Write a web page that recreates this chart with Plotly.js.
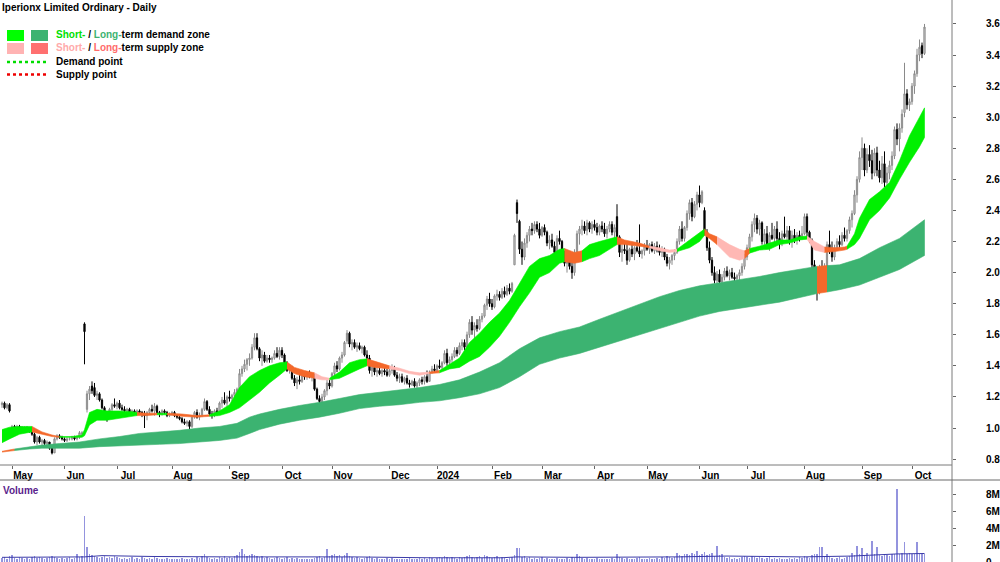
<!DOCTYPE html>
<html><head><meta charset="utf-8">
<script src="https://cdn.plot.ly/plotly-3.0.1.min.js"></script>
<style>html,body{margin:0;padding:0;background:#fff}#c{width:1000px;height:562px}</style>
</head><body><div id="c"></div>
<script>
// ---- daily candles (trading-day index 0..369) ----
const open = [
1.15,1.16,1.13,1.15,1.00,1.01,1.00,1.01,1.00,0.99,
1.00,0.99,0.98,0.96,0.91,0.94,0.91,0.92,0.90,0.91,
0.87,0.84,0.93,0.95,0.94,0.93,0.92,0.93,0.93,0.94,
0.93,0.94,0.96,1.67,1.12,1.22,1.27,1.26,1.21,1.22,
1.18,1.13,1.08,1.07,1.12,1.15,1.14,1.16,1.13,1.12,
1.11,1.12,1.10,1.11,1.10,1.11,1.10,1.09,1.08,1.10,
1.12,1.11,1.14,1.10,1.09,1.11,1.10,1.08,1.09,1.10,
1.08,1.07,1.06,1.04,1.03,1.04,1.01,1.07,1.10,1.07,
1.08,1.12,1.17,1.12,1.09,1.08,1.11,1.09,1.16,1.18,
1.16,1.20,1.19,1.21,1.23,1.25,1.35,1.38,1.41,1.44,
1.45,1.52,1.58,1.51,1.45,1.47,1.43,1.45,1.44,1.45,
1.48,1.46,1.50,1.47,1.42,1.37,1.39,1.32,1.29,1.31,
1.30,1.34,1.33,1.35,1.33,1.34,1.25,1.19,1.17,1.20,
1.24,1.29,1.27,1.35,1.40,1.38,1.45,1.47,1.56,1.61,
1.54,1.55,1.52,1.53,1.51,1.52,1.47,1.45,1.37,1.39,
1.36,1.37,1.35,1.37,1.36,1.34,1.37,1.38,1.34,1.32,
1.33,1.30,1.32,1.29,1.28,1.30,1.27,1.29,1.31,1.30,
1.33,1.30,1.36,1.38,1.37,1.40,1.39,1.42,1.48,1.42,
1.44,1.46,1.50,1.48,1.53,1.55,1.52,1.60,1.68,1.63,
1.66,1.64,1.70,1.72,1.79,1.83,1.80,1.78,1.85,1.86,
1.84,1.88,1.86,1.90,1.88,2.05,2.45,2.33,2.15,2.10,
2.19,2.24,2.28,2.27,2.31,2.28,2.24,2.29,2.26,2.19,
2.21,2.17,2.13,2.22,2.20,2.12,2.06,2.09,2.04,2.00,
2.13,2.25,2.28,2.30,2.27,2.32,2.28,2.31,2.29,2.26,
2.30,2.28,2.25,2.28,2.31,2.26,2.36,2.23,2.13,2.15,
2.14,2.08,2.15,2.12,2.16,2.14,2.12,2.14,2.17,2.15,
2.18,2.14,2.17,2.15,2.13,2.15,2.10,2.06,2.08,2.11,
2.13,2.20,2.28,2.22,2.29,2.38,2.45,2.36,2.44,2.50,
2.45,2.40,2.26,2.16,2.08,2.00,1.95,1.99,1.94,1.97,
2.01,1.98,2.00,1.97,1.96,1.98,2.00,2.04,2.10,2.16,
2.23,2.31,2.35,2.28,2.32,2.20,2.25,2.18,2.24,2.22,
2.28,2.22,2.19,2.25,2.23,2.27,2.20,2.24,2.21,2.24,
2.22,2.25,2.36,2.26,2.21,2.05,1.95,1.88,2.02,1.97,
2.04,2.18,2.15,2.10,2.16,2.20,2.18,2.24,2.22,2.27,
2.34,2.38,2.50,2.60,2.74,2.80,2.66,2.76,2.72,2.64,
2.77,2.66,2.61,2.70,2.58,2.64,2.69,2.75,2.92,2.86,
2.93,3.03,3.15,3.08,3.10,3.20,3.28,3.40,3.46,3.41];
const high = [
1.17,1.17,1.16,1.16,1.02,1.02,1.02,1.02,1.01,1.01,
1.01,1.00,0.99,0.97,0.95,0.95,0.93,0.93,0.92,0.91,
0.88,0.94,0.96,0.96,0.95,0.94,0.94,0.94,0.95,0.95,
0.95,0.98,0.98,1.68,1.24,1.27,1.30,1.29,1.24,1.23,
1.19,1.14,1.10,1.13,1.16,1.19,1.17,1.18,1.15,1.14,
1.13,1.13,1.12,1.12,1.12,1.12,1.11,1.11,1.11,1.13,
1.15,1.16,1.15,1.11,1.12,1.12,1.11,1.10,1.11,1.11,
1.09,1.08,1.07,1.06,1.05,1.05,1.08,1.11,1.12,1.10,
1.13,1.19,1.18,1.14,1.11,1.12,1.13,1.17,1.20,1.23,
1.21,1.24,1.22,1.25,1.26,1.38,1.40,1.44,1.45,1.48,
1.54,1.61,1.61,1.52,1.50,1.49,1.47,1.47,1.46,1.50,
1.52,1.52,1.52,1.48,1.43,1.41,1.40,1.34,1.33,1.34,
1.36,1.36,1.36,1.37,1.35,1.35,1.26,1.21,1.22,1.25,
1.31,1.31,1.36,1.42,1.43,1.46,1.49,1.56,1.63,1.62,
1.57,1.57,1.55,1.55,1.53,1.53,1.50,1.47,1.41,1.40,
1.39,1.39,1.38,1.39,1.38,1.38,1.41,1.40,1.36,1.35,
1.35,1.33,1.34,1.31,1.31,1.32,1.30,1.32,1.33,1.34,
1.37,1.37,1.40,1.41,1.41,1.44,1.43,1.50,1.51,1.46,
1.48,1.52,1.52,1.55,1.57,1.57,1.62,1.70,1.72,1.68,
1.70,1.72,1.74,1.80,1.85,1.87,1.83,1.86,1.89,1.88,
1.90,1.91,1.92,1.93,1.94,2.25,2.47,2.34,2.20,2.22,
2.26,2.30,2.32,2.33,2.33,2.32,2.30,2.31,2.27,2.24,
2.25,2.20,2.24,2.27,2.21,2.14,2.12,2.13,2.08,2.15,
2.27,2.30,2.34,2.33,2.34,2.33,2.33,2.34,2.32,2.31,
2.33,2.32,2.30,2.33,2.33,2.31,2.44,2.24,2.18,2.20,
2.19,2.16,2.18,2.17,2.21,2.31,2.15,2.19,2.21,2.19,
2.20,2.19,2.20,2.18,2.17,2.16,2.12,2.10,2.12,2.15,
2.22,2.30,2.33,2.30,2.40,2.47,2.48,2.46,2.52,2.56,
2.53,2.42,2.28,2.20,2.10,2.04,2.01,2.02,1.99,2.03,
2.04,2.02,2.03,2.00,1.99,2.02,2.06,2.12,2.18,2.25,
2.33,2.38,2.37,2.34,2.33,2.28,2.30,2.26,2.32,2.30,
2.33,2.26,2.27,2.36,2.30,2.30,2.27,2.28,2.26,2.27,
2.30,2.38,2.38,2.27,2.22,2.08,2.02,2.05,2.08,2.06,
2.20,2.27,2.20,2.18,2.22,2.24,2.26,2.29,2.28,2.36,
2.40,2.53,2.62,2.78,2.87,2.83,2.80,2.82,2.79,2.80,
2.81,2.72,2.75,2.78,2.68,2.72,2.78,2.94,2.96,2.96,
3.05,3.35,3.18,3.12,3.22,3.30,3.44,3.50,3.48,3.60];
const low = [
1.13,1.12,1.12,1.10,0.98,0.99,0.99,0.99,0.98,0.98,
0.98,0.97,0.95,0.90,0.89,0.90,0.88,0.89,0.89,0.86,
0.83,0.84,0.92,0.93,0.92,0.91,0.91,0.92,0.92,0.92,
0.92,0.93,0.95,1.41,1.10,1.18,1.22,1.20,1.18,1.17,
1.12,1.07,1.04,1.06,1.11,1.13,1.12,1.12,1.11,1.10,
1.09,1.09,1.08,1.09,1.08,1.09,1.07,1.00,1.05,1.09,
1.10,1.08,1.09,1.07,1.08,1.09,1.07,1.07,1.08,1.07,
1.06,1.05,1.03,1.02,1.01,0.99,1.00,1.06,1.06,1.05,
1.07,1.11,1.11,1.08,1.06,1.07,1.08,1.09,1.13,1.15,
1.14,1.17,1.17,1.19,1.20,1.24,1.33,1.36,1.37,1.40,
1.44,1.50,1.50,1.43,1.40,1.42,1.42,1.42,1.42,1.44,
1.45,1.44,1.45,1.41,1.36,1.35,1.31,1.27,1.25,1.28,
1.29,1.31,1.31,1.32,1.30,1.24,1.18,1.13,1.15,1.18,
1.21,1.25,1.26,1.33,1.36,1.37,1.42,1.46,1.54,1.52,
1.50,1.51,1.49,1.50,1.48,1.46,1.43,1.35,1.33,1.34,
1.33,1.34,1.33,1.34,1.33,1.33,1.35,1.33,1.30,1.29,
1.29,1.28,1.28,1.26,1.27,1.26,1.25,1.27,1.28,1.28,
1.29,1.30,1.35,1.36,1.36,1.38,1.37,1.41,1.40,1.39,
1.42,1.45,1.46,1.47,1.50,1.50,1.51,1.58,1.60,1.57,
1.62,1.63,1.68,1.71,1.76,1.78,1.76,1.77,1.82,1.82,
1.83,1.84,1.85,1.86,1.87,2.05,2.32,2.12,2.05,2.08,
2.16,2.20,2.24,2.25,2.26,2.22,2.23,2.24,2.17,2.15,
2.16,2.11,2.12,2.18,2.10,2.04,2.00,2.02,1.96,1.98,
2.12,2.18,2.24,2.25,2.24,2.26,2.25,2.27,2.24,2.24,
2.26,2.23,2.22,2.26,2.24,2.22,2.20,2.10,2.07,2.12,
2.05,2.07,2.10,2.08,2.13,2.10,2.09,2.11,2.14,2.12,
2.13,2.12,2.13,2.11,2.10,2.08,2.04,2.02,2.05,2.08,
2.12,2.18,2.20,2.20,2.27,2.34,2.33,2.35,2.40,2.42,
2.44,2.24,2.14,2.06,1.98,1.93,1.92,1.91,1.92,1.95,
1.97,1.95,1.96,1.94,1.93,1.95,1.98,2.02,2.08,2.14,
2.20,2.26,2.25,2.24,2.18,2.18,2.16,2.14,2.21,2.18,
2.20,2.15,2.17,2.22,2.20,2.18,2.16,2.19,2.18,2.20,
2.21,2.24,2.23,2.19,2.02,1.92,1.82,1.86,1.93,1.94,
2.03,2.12,2.07,2.08,2.14,2.16,2.17,2.20,2.20,2.25,
2.29,2.37,2.45,2.58,2.66,2.62,2.64,2.68,2.60,2.62,
2.62,2.58,2.57,2.55,2.55,2.60,2.66,2.73,2.82,2.78,
2.90,3.00,3.05,3.04,3.08,3.15,3.26,3.36,3.38,3.40];
const close = [
1.16,1.13,1.15,1.11,1.01,1.00,1.01,1.00,0.99,1.00,
0.99,0.98,0.96,0.91,0.94,0.91,0.92,0.90,0.91,0.87,
0.84,0.93,0.95,0.94,0.93,0.92,0.93,0.93,0.94,0.93,
0.94,0.97,0.97,1.62,1.22,1.25,1.24,1.21,1.22,1.18,
1.13,1.08,1.07,1.12,1.15,1.14,1.16,1.13,1.12,1.11,
1.12,1.10,1.11,1.10,1.11,1.10,1.09,1.08,1.10,1.12,
1.11,1.14,1.10,1.09,1.11,1.10,1.08,1.09,1.10,1.08,
1.07,1.06,1.04,1.03,1.04,1.01,1.07,1.10,1.07,1.08,
1.12,1.17,1.12,1.09,1.08,1.11,1.09,1.16,1.18,1.16,
1.20,1.19,1.21,1.23,1.25,1.35,1.38,1.41,1.44,1.45,
1.52,1.58,1.51,1.45,1.47,1.43,1.45,1.44,1.45,1.48,
1.46,1.50,1.47,1.42,1.37,1.39,1.32,1.29,1.31,1.30,
1.34,1.33,1.35,1.33,1.34,1.25,1.19,1.17,1.20,1.24,
1.29,1.27,1.35,1.40,1.38,1.45,1.47,1.55,1.61,1.54,
1.55,1.52,1.53,1.51,1.52,1.47,1.45,1.37,1.39,1.36,
1.37,1.35,1.37,1.36,1.34,1.37,1.38,1.34,1.32,1.33,
1.30,1.32,1.29,1.28,1.30,1.27,1.29,1.31,1.30,1.33,
1.30,1.36,1.38,1.37,1.40,1.39,1.42,1.48,1.42,1.44,
1.46,1.50,1.48,1.53,1.55,1.52,1.60,1.68,1.63,1.66,
1.64,1.70,1.72,1.79,1.83,1.80,1.78,1.85,1.86,1.84,
1.88,1.86,1.90,1.88,1.93,2.24,2.38,2.15,2.10,2.19,
2.24,2.28,2.27,2.31,2.28,2.24,2.29,2.26,2.19,2.21,
2.17,2.13,2.22,2.20,2.12,2.06,2.09,2.04,2.00,2.13,
2.25,2.28,2.30,2.27,2.32,2.28,2.31,2.29,2.26,2.30,
2.28,2.25,2.28,2.31,2.26,2.29,2.23,2.13,2.15,2.14,
2.08,2.15,2.12,2.16,2.14,2.12,2.14,2.17,2.15,2.18,
2.14,2.17,2.15,2.13,2.15,2.10,2.06,2.08,2.11,2.13,
2.20,2.28,2.22,2.29,2.38,2.45,2.36,2.44,2.50,2.45,
2.52,2.26,2.16,2.08,2.00,1.95,1.99,1.94,1.97,2.01,
1.98,2.00,1.97,1.96,1.98,2.00,2.04,2.10,2.16,2.23,
2.31,2.35,2.28,2.32,2.20,2.25,2.18,2.24,2.22,2.28,
2.22,2.19,2.25,2.23,2.27,2.20,2.24,2.21,2.24,2.22,
2.25,2.36,2.26,2.21,2.05,1.95,1.88,2.02,1.97,2.04,
2.18,2.15,2.10,2.16,2.20,2.18,2.24,2.22,2.27,2.34,
2.38,2.50,2.60,2.74,2.80,2.66,2.76,2.72,2.64,2.77,
2.66,2.61,2.70,2.58,2.64,2.69,2.75,2.92,2.86,2.93,
3.02,3.15,3.08,3.10,3.20,3.28,3.40,3.45,3.41,3.58];
// daily volume, millions
const volume = [
0.5,0.6,0.4,0.7,0.8,0.5,0.4,0.6,0.5,0.4,
0.5,0.4,0.6,0.7,0.5,0.6,0.5,0.4,0.5,0.6,
0.7,0.6,0.5,0.4,0.5,0.4,0.5,0.6,0.4,0.5,
0.9,0.6,0.7,5.4,1.8,0.9,0.8,0.7,0.6,0.5,
0.6,0.7,0.5,0.6,0.5,0.7,0.6,0.5,0.4,0.5,
0.4,0.5,0.6,0.4,0.5,0.4,0.6,0.5,0.4,0.5,
0.4,0.6,0.5,0.4,0.3,0.4,0.5,0.3,0.4,0.3,
0.4,0.3,0.5,0.4,0.3,0.4,0.5,0.4,0.6,0.5,
0.7,1.0,0.6,0.5,0.4,0.5,0.4,0.6,0.5,0.7,
0.5,0.6,0.5,0.7,0.8,1.2,1.5,0.9,0.7,0.8,
0.9,0.8,0.7,0.6,0.7,0.5,0.6,0.5,0.4,0.5,
0.6,0.5,0.4,0.5,0.6,0.4,0.5,0.4,0.5,0.4,
0.3,0.4,0.3,0.4,0.3,0.5,0.6,0.7,0.5,0.6,
1.5,0.7,0.8,0.9,0.7,0.8,0.6,0.8,1.05,0.7,
0.6,0.5,0.6,0.5,0.4,0.5,0.6,0.7,0.5,0.4,
0.5,0.4,0.3,0.4,0.5,0.4,0.5,0.4,0.3,0.4,
0.4,0.3,0.4,0.5,0.4,0.3,0.4,0.5,0.4,0.5,
0.4,0.6,0.5,0.4,0.5,0.6,0.5,0.7,0.6,0.5,
0.6,0.5,0.4,0.6,0.5,0.6,0.7,0.8,0.6,0.5,
0.6,0.7,0.5,0.8,0.7,0.6,0.5,0.6,0.7,0.5,
0.6,0.5,0.4,0.5,0.6,0.8,1.65,1.6,0.6,0.7,
0.5,0.6,0.4,0.5,0.4,0.5,0.6,0.4,0.5,0.4,
0.3,0.4,0.5,0.4,0.3,0.4,0.5,0.4,0.6,0.5,
0.95,0.7,0.5,0.4,0.5,0.4,0.3,0.4,0.5,0.4,
0.3,0.4,0.3,0.4,0.5,0.4,0.95,0.6,0.5,0.4,
0.5,0.4,0.3,0.4,0.5,0.6,0.4,0.3,0.4,0.5,
0.4,0.3,0.5,0.4,0.6,0.5,0.7,0.6,0.5,0.6,
1.1,0.8,0.7,0.9,1.0,0.8,1.1,0.9,1.3,0.8,
0.9,1.2,0.8,0.9,1.1,0.7,1.9,0.8,1.0,0.6,
0.5,0.6,0.4,0.5,0.4,0.5,0.6,0.7,0.6,0.5,
0.7,0.6,0.5,0.6,0.5,0.4,0.5,0.6,0.4,0.5,
0.4,0.5,0.4,0.3,0.4,0.5,0.4,0.5,0.4,0.6,
0.5,0.7,0.6,0.5,0.8,0.9,1.0,1.8,1.8,0.7,
0.9,0.6,0.5,0.4,0.5,0.6,0.4,0.5,0.6,0.7,
1.1,0.8,1.9,0.9,1.6,0.8,1.1,0.7,2.45,1.0,
1.75,0.8,0.7,0.9,0.8,0.7,0.9,1.0,8.6,1.0,
1.1,2.35,1.0,1.1,1.0,1.0,2.35,1.0,1.0,0.9];
// volume average line (read at sample days), millions
const volAvgDay = [0,30,33,40,60,90,110,140,170,200,206,230,270,290,320,340,358,369];
const volAvg    = [0.55,0.55,0.6,0.75,0.65,0.6,0.6,0.6,0.5,0.5,0.6,0.55,0.6,0.7,0.6,0.7,0.95,1.0];

// ---- short-term zone band (read at sample days) ----
const stDay = [0,3,7,12,16,20,23,28,32,33,35,38,42,47,52,54,58,62,66,72,78,83,87,91,95,99,103,107,111,114,117,121,125,128,131,135,139,143,146,149,155,159,163,167,171,175,179,183,187,191,195,199,203,207,211,215,219,223,225,229,232,235,239,243,246,249,255,259,263,267,270,275,279,281,283,286,291,295,297,299,303,307,311,315,319,322,325,329,333,337,338,341,343,347,351,355,359,363,367,369];
const stUpper = [0.99,1.005,1.01,1.01,0.975,0.955,0.945,0.945,0.955,0.99,1.10,1.12,1.11,1.11,1.105,1.10,1.095,1.095,1.095,1.09,1.08,1.085,1.11,1.15,1.26,1.33,1.37,1.40,1.42,1.425,1.39,1.37,1.355,1.33,1.32,1.36,1.42,1.44,1.445,1.43,1.40,1.385,1.365,1.355,1.36,1.37,1.41,1.45,1.55,1.61,1.68,1.74,1.82,1.93,2.04,2.09,2.11,2.15,2.155,2.13,2.14,2.18,2.20,2.22,2.23,2.21,2.19,2.17,2.16,2.145,2.15,2.21,2.26,2.28,2.25,2.23,2.18,2.15,2.14,2.155,2.17,2.19,2.21,2.21,2.23,2.235,2.20,2.165,2.16,2.165,2.17,2.25,2.35,2.47,2.52,2.58,2.72,2.88,3.00,3.06];
const stLower = [0.905,0.93,0.96,0.975,0.96,0.945,0.94,0.94,0.94,0.95,1.02,1.05,1.05,1.06,1.075,1.08,1.08,1.085,1.085,1.075,1.07,1.075,1.08,1.10,1.13,1.18,1.23,1.29,1.34,1.38,1.35,1.33,1.32,1.31,1.31,1.32,1.35,1.38,1.40,1.39,1.38,1.37,1.35,1.34,1.35,1.355,1.38,1.39,1.43,1.46,1.52,1.59,1.68,1.78,1.87,1.97,2.00,2.06,2.07,2.06,2.07,2.09,2.11,2.15,2.18,2.18,2.17,2.16,2.14,2.13,2.135,2.16,2.20,2.24,2.22,2.18,2.10,2.08,2.09,2.125,2.145,2.15,2.18,2.19,2.21,2.215,2.145,2.13,2.135,2.145,2.15,2.18,2.22,2.34,2.40,2.48,2.60,2.71,2.81,2.87];
// zone state changes: day where each state starts
const stStateDay = [0,12,23,54,62,66,83,114,125,131,146,155,171,175,225,232,246,259,270,281,286,297,299,322,329,338];
const stState = ['demand','supply','demand','supply','demand','supply','demand','supply','weak','demand','supply','weak','supply','demand','supply','demand','supply','weak','demand','supply','weak','supply','demand','weak','supply','demand'];

// ---- long-term zone band ----
const ltDay = [0,5,11,16,23,31,39,47,55,63,71,79,87,94,99,103,111,119,127,135,143,151,159,167,175,183,191,199,207,215,223,231,239,247,255,263,271,279,287,295,303,311,319,326,330,335,343,351,359,369];
const ltUpper = [0.85,0.865,0.88,0.89,0.90,0.91,0.93,0.945,0.965,0.975,0.985,1.00,1.01,1.03,1.07,1.09,1.12,1.145,1.165,1.19,1.215,1.23,1.245,1.26,1.28,1.31,1.36,1.42,1.51,1.58,1.62,1.65,1.70,1.75,1.80,1.845,1.885,1.915,1.935,1.955,1.975,2.00,2.02,2.04,2.045,2.05,2.09,2.16,2.22,2.34];
const ltLower = [0.845,0.855,0.865,0.87,0.87,0.87,0.88,0.885,0.89,0.895,0.90,0.91,0.92,0.935,0.965,0.99,1.025,1.05,1.07,1.095,1.125,1.14,1.15,1.165,1.175,1.195,1.22,1.26,1.33,1.41,1.45,1.48,1.52,1.56,1.60,1.64,1.68,1.72,1.75,1.77,1.79,1.81,1.84,1.865,1.875,1.89,1.92,1.97,2.02,2.11];
const ltStateDay = [0,5,326,330];
const ltState = ['supply','demand','supply','demand'];

// ---- axis labels ----
const monthLabels = ['May','Jun','Jul','Aug','Sep','Oct','Nov','Dec','2024','Feb','Mar','Apr','May','Jun','Jul','Aug','Sep','Oct'];
const monthStartDay = [4,25,46,68,91,112,132,155,174,196,216,237,258,279,298,321,344,364];
const priceTicks = [0.8,1.0,1.2,1.4,1.6,1.8,2.0,2.2,2.4,2.6,2.8,3.0,3.2,3.4,3.6];
const volTicks = [0,2,4,6,8];
const volTickLabels = ['0','2M','4M','6M','8M'];

// ---- build ----
const days = close.map((_, i) => i);
const STC = {demand:'#00f000', supply:'#f4682a', weak:'#ffb8b4'};
const LTC = {demand:'#3cb371', supply:'#f4682a'};

function bandTraces(dayArr, up, lo, stDays, states, colors) {
  const out = [];
  for (let z = 0; z < stDays.length; z++) {
    const s = stDays[z];
    const e = z + 1 < stDays.length ? stDays[z + 1] : dayArr[dayArr.length - 1];
    const xs = [], us = [], ls = [];
    dayArr.forEach((d, k) => { if (d >= s && d <= e) { xs.push(d); us.push(up[k]); ls.push(lo[k]); } });
    const c = colors[states[z]];
    out.push({type:'scatter', mode:'lines', x: xs.concat(xs.slice().reverse()),
      y: us.concat(ls.slice().reverse()), fill:'toself', fillcolor:c,
      line:{color:c, width:0.6}, hoverinfo:'skip', showlegend:false, xaxis:'x', yaxis:'y'});
  }
  return out;
}

const traces = [];
bandTraces(ltDay, ltUpper, ltLower, ltStateDay, ltState, LTC).forEach(t => traces.push(t));
bandTraces(stDay, stUpper, stLower, stStateDay, stState, STC).forEach(t => traces.push(t));
traces.push({type:'candlestick', x:days, open:open, high:high, low:low, close:close,
  xaxis:'x', yaxis:'y', showlegend:false, hoverinfo:'skip', whiskerwidth:0,
  increasing:{line:{color:'#8a8a8a', width:1}, fillcolor:'#d8d8d8'},
  decreasing:{line:{color:'#000000', width:1}, fillcolor:'#000000'}});
traces.push({type:'bar', x:days, y:volume, xaxis:'x2', yaxis:'y2', width:0.55,
  marker:{color:'#9494de', line:{width:0}}, showlegend:false, hoverinfo:'skip'});
traces.push({type:'scatter', mode:'lines', x:volAvgDay, y:volAvg, xaxis:'x2', yaxis:'y2',
  line:{color:'#3a3aa8', width:1}, showlegend:false, hoverinfo:'skip'});

const F = 'Liberation Sans, Arial, sans-serif';
const bold10 = {family:F, size:10, color:'#000', weight:'bold'};
const W = 1000, H = 562;
const px = x => x / W, py = y => 1 - y / H;

const shapes = [
  {type:'line', xref:'paper', yref:'paper', x0:px(952), x1:px(952), y0:0, y1:1, line:{color:'#7a7a7a', width:1}},
  {type:'line', xref:'paper', yref:'paper', x0:0, x1:px(952), y0:py(465), y1:py(465), line:{color:'#7a7a7a', width:1}},
  {type:'line', xref:'paper', yref:'paper', x0:0, x1:1, y0:py(480), y1:py(480), line:{color:'#6a6a6a', width:1}},
  // legend swatches
  {type:'rect', xref:'paper', yref:'paper', x0:px(7), x1:px(24), y0:py(41), y1:py(30), fillcolor:'#00ff00', line:{width:0}},
  {type:'rect', xref:'paper', yref:'paper', x0:px(31), x1:px(48), y0:py(41), y1:py(30), fillcolor:'#3cb371', line:{width:0}},
  {type:'rect', xref:'paper', yref:'paper', x0:px(7), x1:px(24), y0:py(54), y1:py(43), fillcolor:'#ffb3b3', line:{width:0}},
  {type:'rect', xref:'paper', yref:'paper', x0:px(31), x1:px(48), y0:py(54), y1:py(43), fillcolor:'#ff7070', line:{width:0}},
  {type:'line', xref:'paper', yref:'paper', x0:px(7), x1:px(48), y0:py(62), y1:py(62), line:{color:'#00dd00', width:2.5, dash:'dot'}},
  {type:'line', xref:'paper', yref:'paper', x0:px(7), x1:px(48), y0:py(74.5), y1:py(74.5), line:{color:'#ee0000', width:2.5, dash:'dot'}}
];
const ann = (x, y, text, color) => ({xref:'paper', yref:'paper', x:px(x), y:py(y), xanchor:'left', yanchor:'middle',
  text:text, showarrow:false, font:Object.assign({}, bold10, {color:color || '#000'})});
const annotations = [
  ann(54, 35, '<span style="color:#00e000">Short-</span> / <span style="color:#3cb371">Long-</span>term demand zone'),
  ann(54, 48, '<span style="color:#ffaaaa">Short-</span> / <span style="color:#ff6b6b">Long-</span>term supply zone'),
  ann(54, 62, 'Demand point'),
  ann(54, 75, 'Supply point'),
  ann(1, 490, 'Volume', '#5a1e8c')
];

const layout = {
  width:W, height:H, margin:{l:0, r:0, t:0, b:0}, paper_bgcolor:'#fff', plot_bgcolor:'#fff',
  font:{family:F, size:10, color:'#000'}, showlegend:false, dragmode:false,
  title:{text:'Iperionx Limited Ordinary - Daily', x:0.002, xanchor:'left', y:py(7), yanchor:'middle', font:bold10},
  xaxis:{domain:[0, px(952)], range:[-0.8, 380], anchor:'y', tickvals:monthStartDay, ticktext:monthLabels,
    ticks:'outside', ticklen:3, tickcolor:'#666', tickfont:bold10, ticklabelshift:11, ticklabelstandoff:-2,
    showgrid:false, zeroline:false, showline:false, rangeslider:{visible:false}, fixedrange:true},
  yaxis:{domain:[py(465), 1], range:[0.762, 3.754], side:'right', anchor:'x', tickvals:priceTicks,
    tickformat:'.1f', ticks:'outside', ticklen:3, tickcolor:'#666', tickfont:bold10, ticklabelstandoff:28,
    showgrid:false, zeroline:false, showline:false, fixedrange:true},
  xaxis2:{domain:[0, px(952)], range:[-0.8, 380], anchor:'y2', matches:'x', showticklabels:false, ticks:'',
    showgrid:false, zeroline:false, showline:false, fixedrange:true},
  yaxis2:{domain:[0, py(480)], range:[0, 9.65], side:'right', anchor:'x2', tickvals:volTicks, ticktext:volTickLabels,
    ticks:'outside', ticklen:3, tickcolor:'#666', tickfont:bold10, ticklabelstandoff:28, ticklabeloverflow:'allow',
    showgrid:false, zeroline:false, showline:false, fixedrange:true},
  shapes:shapes, annotations:annotations, bargap:0
};
Plotly.newPlot('c', traces, layout, {staticPlot:true, displayModeBar:false});
</script></body></html>
